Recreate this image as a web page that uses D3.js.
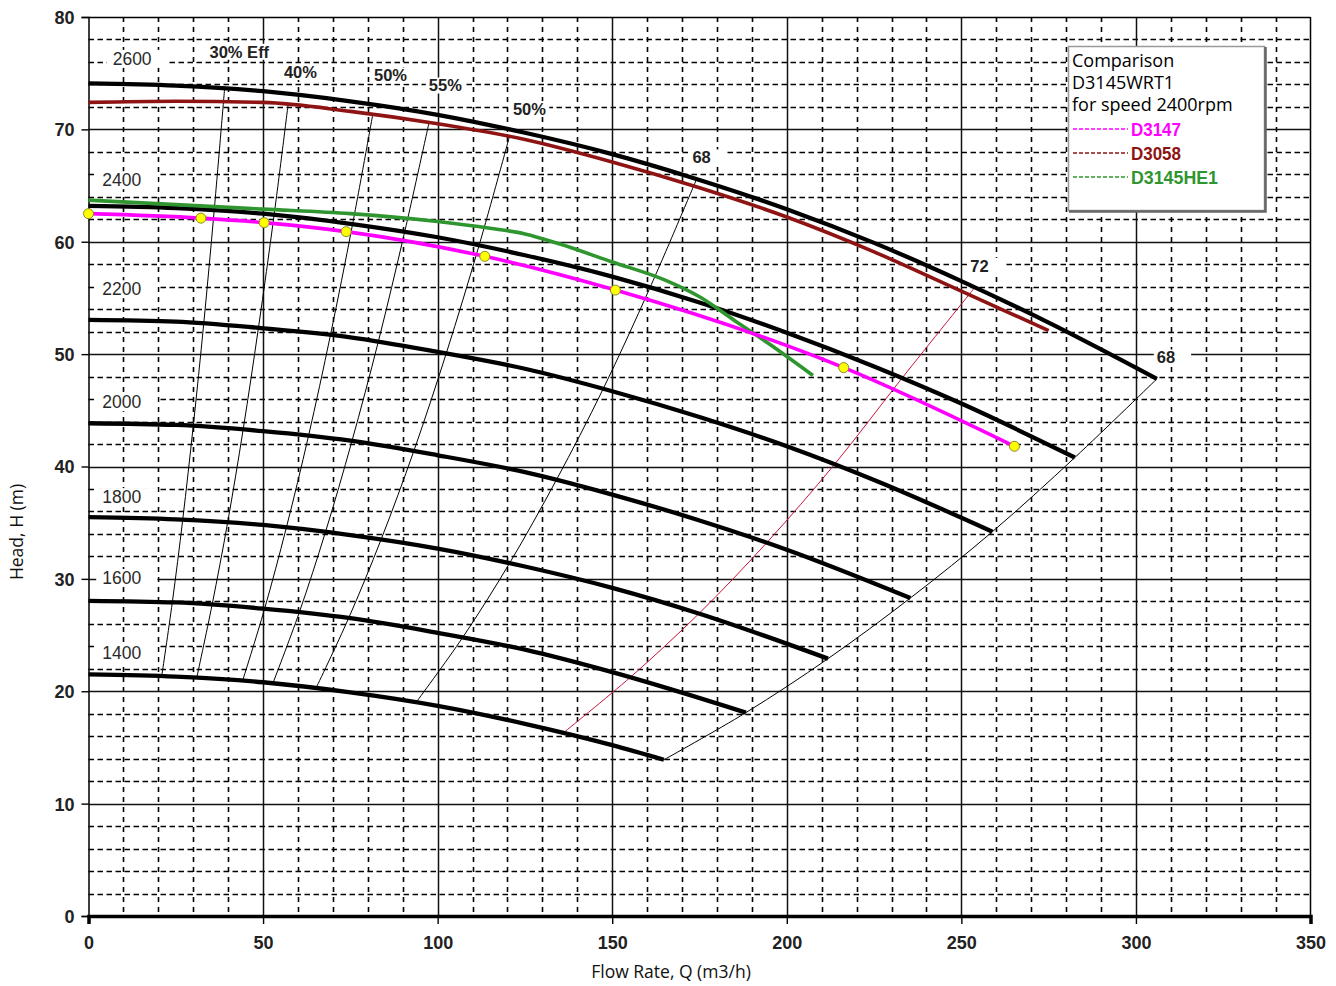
<!DOCTYPE html>
<html>
<head>
<meta charset="utf-8">
<script src="https://cdn.jsdelivr.net/npm/d3@7"></script>
<style>
  body { margin: 0; background: #fff; }
  svg { display: block; }
</style>
</head>
<body>
<svg id="chart" width="1336" height="986"></svg>
<script>
// ---- Axis ticks ----
const xTickValues = [0, 50, 100, 150, 200, 250, 300, 350];
const yTickValues = [0, 10, 20, 30, 40, 50, 60, 70, 80];

// ---- Pump H-Q curves at each speed (rpm): [flow m3/h, head m] ----
const speedNames = ["2600", "2400", "2200", "2000", "1800", "1600", "1400"];
const curve2600 = [[0,74.1],[25,73.9],[50,73.4],[75,72.5],[100,71.3],[125,69.7],[150,67.8],[175,65.5],[200,62.9],[225,59.9],[250,56.5],[275,52.8],[306,47.8]];
const curve2400 = [[0,63.2],[25,63.0],[50,62.5],[75,61.6],[100,60.4],[125,58.8],[150,56.9],[175,54.6],[200,51.9],[225,48.9],[250,45.6],[282.5,40.8]];
const curve2200 = [[0,53.05],[25,52.9],[50,52.3],[75,51.5],[100,50.2],[125,48.7],[150,46.7],[175,44.4],[200,41.8],[225,38.8],[258.9,34.2]];
const curve2000 = [[0,43.85],[25,43.7],[50,43.15],[75,42.3],[100,41.0],[125,39.5],[150,37.5],[175,35.2],[200,32.6],[235.4,28.3]];
const curve1800 = [[0,35.5],[25,35.3],[50,34.8],[75,33.9],[100,32.7],[125,31.1],[150,29.2],[175,26.9],[211.8,22.9]];
const curve1600 = [[0,28.05],[25,27.9],[50,27.35],[75,26.5],[100,25.2],[125,23.7],[150,21.7],[188.3,18.1]];
const curve1400 = [[0,21.5],[25,21.3],[50,20.8],[75,19.9],[100,18.7],[125,17.1],[150,15.2],[164.8,13.9]];
const speedCurves = [curve2600, curve2400, curve2200, curve2000, curve1800, curve1600, curve1400];
// label anchor per speed curve [flow, head]
const speedLabelPos = [[12.5,76.3],[9.5,65.5],[9.5,55.8],[9.5,45.75],[9.5,37.3],[9.5,30.1],[9.5,23.4]];

// ---- Iso-efficiency lines ----
const eff30  = [[39.0,73.7],[36.0,62.8],[33.0,52.7],[30.0,43.6],[27.0,35.3],[24.0,27.9],[21.0,21.4]];
const eff40  = [[57.2,72.3],[53.15,62.35],[48.7,52.4],[44.3,43.3],[39.9,35.1],[35.4,27.7],[31.0,21.2]];
const eff50a = [[81.4,71.3],[75.6,61.5],[69.3,51.7],[63.0,42.7],[56.7,34.6],[50.4,27.3],[44.1,20.9]];
const eff55  = [[97.6,70.7],[90.5,60.8],[83.0,51.1],[75.4,42.2],[67.9,34.2],[60.35,27.0],[52.8,20.7]];
const eff50b = [[120.6,69.4],[111.8,59.6],[102.5,50.1],[93.2,41.4],[83.8,33.5],[74.5,26.5],[65.2,20.3]];
const eff68a = [[174.2,65.6],[160.8,55.9],[147.4,46.9],[134.0,38.8],[120.6,31.4],[107.2,24.8],[93.8,19.0]];
const eff72  = [[253.5,55.8],[233.1,47.9],[213.7,40.2],[194.2,33.2],[174.8,26.9],[155.4,21.3],[136.0,16.3]];
const eff68b = [[306,47.8],[282.5,40.8],[258.9,34.2],[235.4,28.3],[211.8,22.9],[188.3,18.1],[164.8,13.9]];
const effLines = [eff30, eff40, eff50a, eff55, eff50b, eff68a, eff68b];
const effNames = ["30% Eff", "40%", "50%", "55%", "50%", "68", "72", "68"];
const effLabelPos = [[43.2,76.9],[60.7,75.1],[86.5,74.8],[102.2,73.9],[126.3,71.8],[175.6,67.5],[255.2,57.85],[308.6,49.7]];

// ---- Comparison pumps at 2400 rpm ----
const seriesNames = ["D3147", "D3058", "D3145HE1"];
const d3147 = [[0,62.5],[32.2,62.1],[50.3,61.7],[73.8,60.9],[113.5,58.7],[150.9,55.7],[216.3,48.8],[265.2,41.8]];
const d3058 = [[0,72.4],[25,72.5],[50,72.4],[75,71.6],[100,70.5],[125,69.1],[150,67.1],[175,64.8],[200,62.2],[225,59.1],[250,55.6],[275,52.1]];
const d3145he1 = [[0,63.7],[25,63.3],[50,62.9],[75,62.5],[100,61.8],[115,61.2],[125,60.7],[135,59.8],[150,58.2],[165,56.6],[175,55.1],[185,53.0],[195,50.9],[207.5,48.1]];

const svg = d3.select("#chart");
const plotL = 88.5, plotR = 1310.5, plotT = 17, plotB = 916;

const x = d3.scaleLinear().domain([0, 350]).range([plotL, plotR]);
const y = d3.scaleLinear().domain([0, 80]).range([plotB, plotT]);

const tickFont = "'Liberation Sans', Arial, sans-serif";
const titleFont = "'Open Sans', 'Noto Sans', sans-serif";
const narrowFont = "'Liberation Sans Narrow', 'Arial Narrow', 'Liberation Sans', sans-serif";

// ---- Grid ----
const grid = svg.append("g");
const minorX = d3.range(10, 350, 10).filter(v => v % 50 !== 0);
const minorY = d3.range(2, 80, 2).filter(v => v % 10 !== 0);
grid.selectAll(".mx").data(minorX).join("line")
  .attr("x1", d => Math.round(x(d)) + 0.5).attr("x2", d => Math.round(x(d)) + 0.5)
  .attr("y1", plotT).attr("y2", plotB)
  .attr("stroke", "#000").attr("stroke-width", 1.6).attr("stroke-dasharray", "5,5");
grid.selectAll(".my").data(minorY).join("line")
  .attr("y1", d => Math.round(y(d)) + 0.5).attr("y2", d => Math.round(y(d)) + 0.5)
  .attr("x1", plotL).attr("x2", plotR)
  .attr("stroke", "#000").attr("stroke-width", 1.6).attr("stroke-dasharray", "5.5,3.5");
grid.selectAll(".Mx").data(xTickValues.filter(v => v > 0 && v < 350)).join("line")
  .attr("x1", d => Math.round(x(d)) + 0.5).attr("x2", d => Math.round(x(d)) + 0.5)
  .attr("y1", plotT).attr("y2", plotB)
  .attr("stroke", "#111").attr("stroke-width", 1.5);
grid.selectAll(".My").data(yTickValues.filter(v => v > 0 && v < 80)).join("line")
  .attr("y1", d => Math.round(y(d)) + 0.5).attr("y2", d => Math.round(y(d)) + 0.5)
  .attr("x1", plotL).attr("x2", plotR)
  .attr("stroke", "#111").attr("stroke-width", 1.5);

// ---- Axes ----
const xAxis = svg.append("g").attr("transform", `translate(0,${plotB})`)
  .call(d3.axisBottom(x).tickValues(xTickValues).tickSize(8).tickPadding(12).tickFormat(d3.format("d")));
xAxis.select(".domain").attr("stroke", "#000").attr("stroke-width", 3.5);
const yAxis = svg.append("g").attr("transform", `translate(${plotL},0)`)
  .call(d3.axisLeft(y).tickValues(yTickValues).tickSize(7).tickPadding(7).tickFormat(d3.format("d")));
yAxis.select(".domain").attr("stroke", "#000").attr("stroke-width", 1.5);
[xAxis, yAxis].forEach(a => {
  a.selectAll(".tick line").attr("stroke", "#000").attr("stroke-width", 1.4);
  a.selectAll(".tick text").attr("font-family", tickFont).attr("font-size", 18)
    .attr("font-weight", "bold").attr("fill", "#222");
});
yAxis.selectAll(".tick text").attr("dy", "0.36em");

// frame top and right
svg.append("line").attr("x1", plotL).attr("x2", plotR).attr("y1", plotT + 0.5).attr("y2", plotT + 0.5)
  .attr("stroke", "#000").attr("stroke-width", 1.5);
svg.append("line").attr("x1", plotR).attr("x2", plotR).attr("y1", plotT).attr("y2", plotB)
  .attr("stroke", "#000").attr("stroke-width", 1.5);

// ---- Axis titles ----
svg.append("text").attr("x", 671).attr("y", 978).attr("text-anchor", "middle")
  .attr("font-family", titleFont).attr("font-size", 17.5).attr("fill", "#111")
  .text("Flow Rate, Q (m3/h)");
svg.append("text").attr("transform", "translate(23,532) rotate(-90)").attr("text-anchor", "middle")
  .attr("font-family", titleFont).attr("font-size", 17.5).attr("fill", "#111")
  .text("Head, H (m)");

const smooth = d3.line().x(d => x(d[0])).y(d => y(d[1])).curve(d3.curveMonotoneX);
const smoothY = d3.line().x(d => x(d[0])).y(d => y(d[1])).curve(d3.curveCatmullRom.alpha(0.5));

// label with white backing
function label(g, pos, text, font, size, weight, fill, padL, padR) {
  const t = g.append("text").attr("x", x(pos[0])).attr("y", y(pos[1]))
    .attr("text-anchor", "middle").attr("dy", "0.36em")
    .attr("font-family", font).attr("font-size", size).attr("font-weight", weight)
    .attr("fill", fill).text(text);
  const b = t.node().getBBox();
  g.insert("rect", () => t.node())
    .attr("x", b.x - padL).attr("y", b.y + 1).attr("width", b.width + padL + padR).attr("height", b.height - 2)
    .attr("fill", "#fff");
}

// ---- Labels (white backing drawn under curves) ----
const labels = svg.append("g");
speedNames.forEach((s, i) => label(labels, speedLabelPos[i], s, tickFont, 17.5, "normal", "#2a2a2a", 6, 16));
effNames.forEach((s, i) => label(labels, effLabelPos[i], s, tickFont, 16.5, "bold", "#222", 3, i >= 5 ? 16 : 3));

// ---- Iso-efficiency lines ----
const eff = svg.append("g").attr("fill", "none");
eff.selectAll("path").data(effLines).join("path")
  .attr("d", smoothY).attr("stroke", "#000").attr("stroke-width", 1);
eff.append("path").attr("d", smoothY(eff72)).attr("stroke", "#c8143c").attr("stroke-width", 1);

// ---- Speed curves ----
svg.append("g").attr("fill", "none").selectAll("path").data(speedCurves).join("path")
  .attr("d", smooth).attr("stroke", "#000").attr("stroke-width", 4.3).attr("stroke-linejoin", "round");

// ---- Comparison curves ----
const colors = { D3147: "#ff00ff", D3058: "#8e1414", D3145HE1: "#2f962f" };
const comp = svg.append("g").attr("fill", "none").attr("stroke-width", 3.6).attr("stroke-linejoin", "round");
comp.append("path").attr("d", smooth(d3058)).attr("stroke", colors.D3058);
comp.append("path").attr("d", smooth(d3145he1)).attr("stroke", colors.D3145HE1);
comp.append("path").attr("d", smooth(d3147)).attr("stroke", colors.D3147);
svg.append("g").selectAll("circle").data(d3147).join("circle")
  .attr("cx", d => x(d[0])).attr("cy", d => y(d[1])).attr("r", 5)
  .attr("fill", "#ffff00").attr("stroke", "#8a8a2a").attr("stroke-width", 1);

// ---- Legend ----
const lg = svg.append("g");
lg.append("rect").attr("x", 1068.5).attr("y", 46.5).attr("width", 196).attr("height", 164)
  .attr("fill", "#fff").attr("stroke", "#9a9a9a").attr("stroke-width", 1.5);
lg.append("path").attr("d", "M1265.5,47V211.5H1069").attr("fill", "none")
  .attr("stroke", "#666").attr("stroke-width", 2.5);
["Comparison", "D3145WRT1", "for speed 2400rpm"].forEach((s, i) => {
  lg.append("text").attr("x", 1072).attr("y", 67 + i * 22)
    .attr("font-family", titleFont).attr("font-size", 18).attr("fill", "#000").text(s);
});
seriesNames.forEach((s, i) => {
  const yy = 129 + i * 24;
  lg.append("line").attr("x1", 1073).attr("x2", 1128).attr("y1", yy).attr("y2", yy)
    .attr("stroke", colors[s]).attr("stroke-width", 1.5).attr("stroke-dasharray", "4,2");
  lg.append("text").attr("x", 1131).attr("y", yy + 6.5)
    .attr("font-family", narrowFont).attr("font-size", 18).attr("font-weight", "bold")
    .attr("textLength", s.length > 5 ? 87 : 50).attr("lengthAdjust", "spacingAndGlyphs")
    .attr("fill", colors[s]).text(s);
});
</script>
</body>
</html>
